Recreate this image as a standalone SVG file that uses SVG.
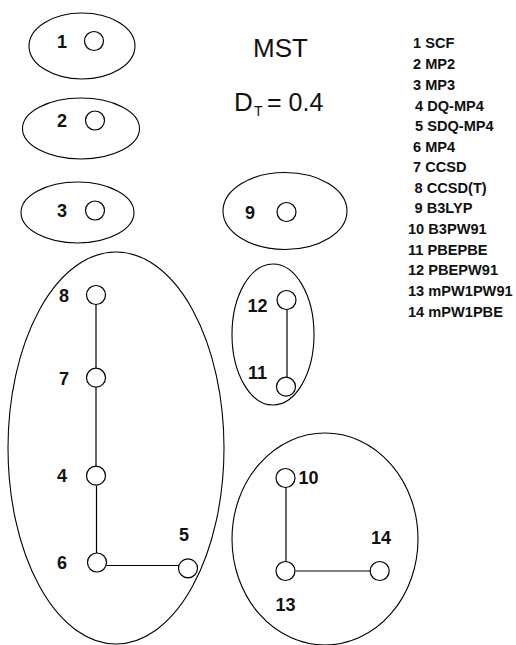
<svg xmlns="http://www.w3.org/2000/svg" width="516" height="645" viewBox="0 0 516 645">
<style>
.grp{fill:none;stroke:#000;stroke-width:1.1}
.nd{fill:#fff;stroke:#000;stroke-width:1.2}
.lb{font-family:"Liberation Sans",Arial,sans-serif;font-weight:bold;font-size:18px;fill:#111}
.lg{font-family:"Liberation Sans",Arial,sans-serif;font-weight:bold;font-size:14.6px;fill:#111}
.tt{font-family:"Liberation Sans",Arial,sans-serif;font-size:26px;fill:#111}
.ed{stroke:#000;stroke-width:1.2;fill:none}
</style>
<rect width="516" height="645" fill="#fff"/>
<g id="clusters">
<ellipse class="grp" cx="82" cy="46" rx="53" ry="33"/>
<ellipse class="grp" cx="81" cy="128.5" rx="58.5" ry="30.5"/>
<ellipse class="grp" cx="77.5" cy="212.5" rx="56.5" ry="30.5"/>
<ellipse class="grp" cx="285" cy="211" rx="62" ry="38.5"/>
<ellipse class="grp" cx="116" cy="448" rx="108" ry="196"/>
<ellipse class="grp" cx="273" cy="334.5" rx="41" ry="70.5"/>
<ellipse class="grp" cx="325" cy="539" rx="93" ry="106"/>
</g>
<g id="connectors">
<line class="ed" x1="96" y1="304.5" x2="96" y2="368"/>
<line class="ed" x1="96" y1="387.5" x2="96" y2="466"/>
<line class="ed" x1="96.5" y1="485.5" x2="96.5" y2="553"/>
<line class="ed" x1="106.5" y1="565.5" x2="178.5" y2="565.5"/>
<line class="ed" x1="287" y1="309.5" x2="287" y2="377"/>
<line class="ed" x1="286" y1="487.5" x2="286" y2="561.5"/>
<line class="ed" x1="295.5" y1="571" x2="370" y2="571"/>
</g>
<g id="n1"><circle class="nd" cx="94" cy="41" r="9.5"/><text class="lb" x="57" y="48">1</text></g>
<g id="n2"><circle class="nd" cx="95" cy="120.5" r="9.5"/><text class="lb" x="57" y="127">2</text></g>
<g id="n3"><circle class="nd" cx="95" cy="210.5" r="9.5"/><text class="lb" x="57" y="217">3</text></g>
<g id="n9"><circle class="nd" cx="286.5" cy="212" r="9.5"/><text class="lb" x="245" y="218.5">9</text></g>
<g id="n8"><circle class="nd" cx="96" cy="295" r="9.5"/><text class="lb" x="59" y="302">8</text></g>
<g id="n7"><circle class="nd" cx="96" cy="377.7" r="9.5"/><text class="lb" x="59" y="385">7</text></g>
<g id="n4"><circle class="nd" cx="96" cy="475.7" r="9.5"/><text class="lb" x="57" y="482">4</text></g>
<g id="n6"><circle class="nd" cx="97" cy="562.5" r="9.5"/><text class="lb" x="57" y="568.5">6</text></g>
<g id="n5"><circle class="nd" cx="188" cy="568.3" r="9.5"/><text class="lb" x="179" y="540.5">5</text></g>
<g id="n12"><circle class="nd" cx="286.5" cy="300" r="9.5"/><text class="lb" x="247.5" y="312">12</text></g>
<g id="n11"><circle class="nd" cx="286" cy="386.7" r="9.5"/><text class="lb" x="248" y="378.5">11</text></g>
<g id="n10"><circle class="nd" cx="285.5" cy="478" r="9.5"/><text class="lb" x="298.5" y="483.5">10</text></g>
<g id="n13"><circle class="nd" cx="285.5" cy="571" r="9.5"/><text class="lb" x="275.5" y="610.5">13</text></g>
<g id="n14"><circle class="nd" cx="379.7" cy="571" r="9.5"/><text class="lb" x="371" y="543.5">14</text></g>
<g id="title">
<text class="tt" x="253" y="57">MST</text>
<text class="tt" x="234" y="111">D</text>
<text class="tt" x="254" y="116" style="font-size:14px">T</text>
<text class="tt" x="267" y="111" style="font-size:25px">= 0.4</text>
</g>
<g id="legend">
<text class="lg" x="413" y="48.3">1 SCF</text>
<text class="lg" x="413" y="69">2 MP2</text>
<text class="lg" x="413" y="90">3 MP3</text>
<text class="lg" x="415" y="110.5">4 DQ-MP4</text>
<text class="lg" x="415" y="131">5 SDQ-MP4</text>
<text class="lg" x="413" y="151.5">6 MP4</text>
<text class="lg" x="413" y="172">7 CCSD</text>
<text class="lg" x="414.5" y="192.5">8 CCSD(T)</text>
<text class="lg" x="414.5" y="213">9 B3LYP</text>
<text class="lg" x="408" y="233.5">10 B3PW91</text>
<text class="lg" x="408" y="254.5">11 PBEPBE</text>
<text class="lg" x="408" y="275">12 PBEPW91</text>
<text class="lg" x="408" y="296">13 mPW1PW91</text>
<text class="lg" x="408" y="316.7">14 mPW1PBE</text>
</g>
</svg>
